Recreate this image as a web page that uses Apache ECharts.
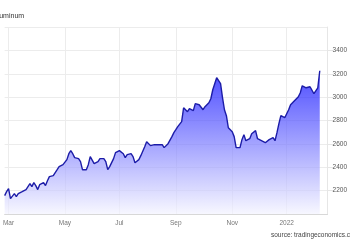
<!DOCTYPE html>
<html><head><meta charset="utf-8">
<script src="https://cdn.jsdelivr.net/npm/echarts@6/dist/echarts.min.js"></script>
<style>html,body{margin:0;padding:0;background:#fff;overflow:hidden}#c{width:350px;height:250px}</style>
</head><body><div id="c"></div>
<script>
const titleText = 'Aluminum';
const sourceText = 'source: tradingeconomics.com';
const tickLabels = ['Mar', 'May', 'Jul', 'Sep', 'Nov', '2022'];
const tickIndex = [2, 31, 59, 88, 117, 145];
const prices = [
  2157, 2191, 2217, 2132, 2115, 2174, 2149, 2174, 2166, 2191,
  2200, 2209, 2226, 2260, 2234, 2268, 2243, 2209, 2251, 2268,
  2268, 2243, 2285, 2320, 2337, 2328, 2354, 2379, 2405, 2414,
  2422, 2431, 2465, 2516, 2542, 2516, 2482, 2499, 2474, 2448,
  2379, 2362, 2379, 2422, 2491, 2482, 2431, 2422, 2448, 2474,
  2482, 2474, 2448, 2379, 2405, 2422, 2474, 2525, 2533, 2542,
  2550, 2516, 2482, 2508, 2525, 2516, 2491, 2439, 2439, 2465,
  2499, 2516, 2576, 2619, 2619, 2585, 2585, 2593, 2576, 2593,
  2610, 2593, 2568, 2576, 2602, 2619, 2662, 2696, 2721, 2747,
  2747, 2790, 2909, 2909, 2875, 2901, 2901, 2884, 2944, 2944,
  2935, 2944, 2892, 2918, 2926, 2952, 2986, 3063, 3115, 3166,
  3166, 3115, 2995, 2892, 2841, 2738, 2730, 2704, 2662, 2568,
  2585, 2568, 2636, 2679, 2627, 2610, 2644, 2687, 2704, 2713,
  2644, 2653, 2627, 2627, 2610, 2627, 2636, 2619, 2653, 2627,
  2696, 2773, 2841, 2824, 2824, 2832, 2892, 2935, 2952, 2969,
  2969, 3003, 3038, 3097, 3097, 3080, 3089, 3089, 3080, 3029,
  3012, 3080, 3226
];
const padCount = 4;
const categories = prices.concat(new Array(padCount).fill(null)).map((_, i) => String(i));

const FONT = '"Liberation Sans", Arial, sans-serif';
const chart = echarts.init(document.getElementById('c'), null, {renderer: 'canvas'});
const isTick = (idx) => tickIndex.indexOf(idx) >= 0;
chart.setOption({
  animation: false,
  backgroundColor: '#ffffff',
  grid: {left: 0, right: 18, top: 27, bottom: 36, containLabel: false},
  graphic: [
    {type: 'text', x: -7, y: 13, style: {text: titleText, font: '7px ' + FONT, fill: '#333'}},
    {type: 'text', x: 271, y: 232, style: {text: sourceText, font: '6.5px ' + FONT, fill: '#444'}}
  ],
  xAxis: {
    type: 'category',
    boundaryGap: false,
    data: categories,
    axisLine: {show: true, lineStyle: {color: '#d8d8d8', width: 1}},
    axisTick: {show: false},
    axisLabel: {
      interval: (idx) => isTick(idx),
      formatter: (v, idx) => { const k = tickIndex.indexOf(Number(v)); return k >= 0 ? tickLabels[k] : ''; },
      fontSize: 6.5, fontFamily: FONT, color: '#777', margin: 6
    },
    splitLine: {show: true, interval: (idx) => isTick(idx), lineStyle: {color: '#ececec', width: 1}}
  },
  yAxis: {
    type: 'value',
    position: 'right',
    min: 2000, max: 3600, interval: 200,
    axisLine: {show: true, lineStyle: {color: '#e6e6e6'}},
    axisTick: {show: true, length: 6, lineStyle: {color: '#e6e6e6'}},
    axisLabel: {showMinLabel: false, showMaxLabel: false, formatter: (v) => String(v),
      fontSize: 6.5, fontFamily: FONT, color: '#555', margin: 5},
    splitLine: {show: true, lineStyle: {color: '#ececec', width: 1}}
  },
  series: [{
    type: 'line',
    data: prices,
    showSymbol: false,
    symbol: 'none',
    lineStyle: {color: '#1c1ca8', width: 1.4},
    areaStyle: {
      color: {type: 'linear', x: 0, y: 0, x2: 0, y2: 1,
        colorStops: [{offset: 0, color: '#0000ff'}, {offset: 1, color: '#f4f4ff'}]}
    }
  }]
});
</script>
</body></html>
